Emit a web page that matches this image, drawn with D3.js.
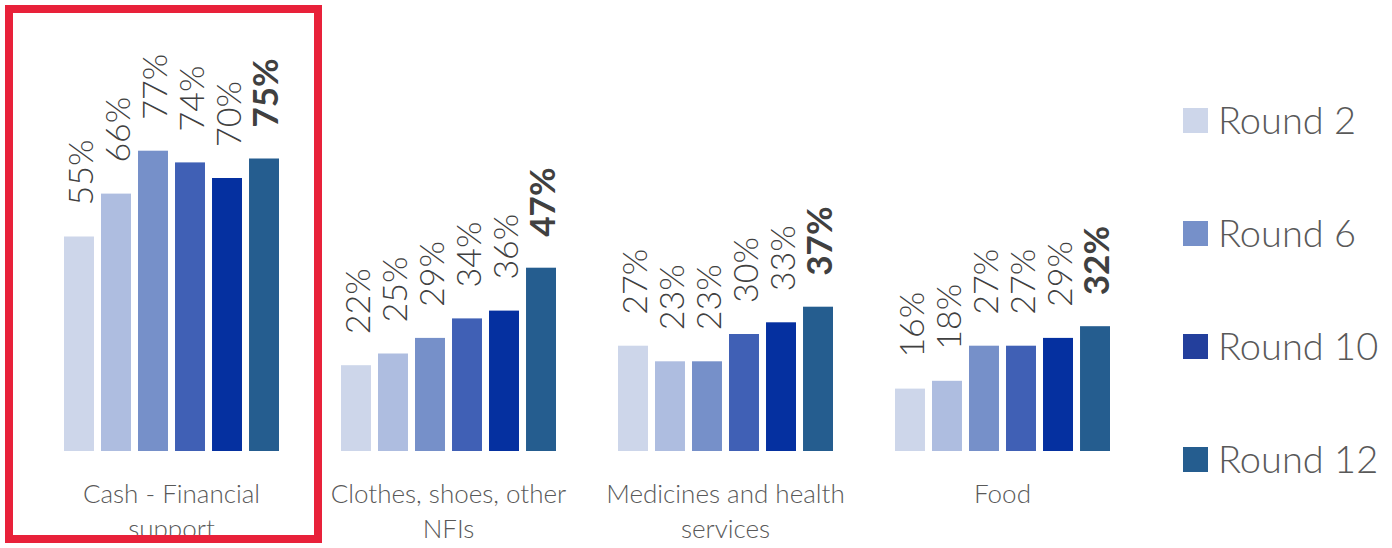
<!DOCTYPE html>
<html>
<head>
<meta charset="utf-8">
<script src="https://cdn.jsdelivr.net/npm/d3@7"></script>
<style>
  html, body { margin: 0; padding: 0; background: #fff; }
  svg { display: block; }
</style>
</head>
<body>
<svg id="chart" width="1392" height="548"></svg>
<script>
const categories = ["Cash - Financial support", "Clothes, shoes, other NFIs", "Medicines and health services", "Food"];
const categoryLines = [["Cash - Financial", "support"], ["Clothes, shoes, other", "NFIs"], ["Medicines and health", "services"], ["Food"]];
const seriesNames = ["Round 2", "Round 4", "Round 6", "Round 8", "Round 10", "Round 12"];
const seriesColors = ["#cdd6ea", "#aebde0", "#7690c9", "#4060b5", "#0530a0", "#255d8f"];
const round2 = [55, 22, 27, 16];
const round4 = [66, 25, 23, 18];
const round6 = [77, 29, 23, 27];
const round8 = [74, 34, 30, 27];
const round10 = [70, 36, 33, 29];
const round12 = [75, 47, 37, 32];
const legendNames = ["Round 2", "Round 6", "Round 10", "Round 12"];
const legendColors = ["#cdd6ea", "#7690c9", "#233f9c", "#255d8f"];

const seriesValues = [round2, round4, round6, round8, round10, round12];

const svg = d3.select("#chart");
const x0 = d3.scaleBand().domain(categories).range([33, 1141]).padding(0);
const x1 = d3.scaleBand().domain(seriesNames).range([31, 246]).paddingInner(0.19).paddingOuter(0);
const y = d3.scaleLinear().domain([0, 100]).range([451, 61]);

const font = "Lato, 'Open Sans', sans-serif";

const groups = svg.selectAll("g.cat").data(categories).enter().append("g")
  .attr("class", "cat")
  .attr("transform", d => `translate(${x0(d)},0)`);

groups.each(function(cat, ci) {
  const g = d3.select(this);
  const data = seriesNames.map((s, si) => ({ s, si, v: seriesValues[si][ci] }));
  g.selectAll("rect").data(data).enter().append("rect")
    .attr("x", d => x1(d.s))
    .attr("y", d => y(d.v))
    .attr("width", x1.bandwidth())
    .attr("height", d => y(0) - y(d.v))
    .attr("fill", d => seriesColors[d.si]);
  g.selectAll("text.val").data(data).enter().append("text")
    .attr("class", "val")
    .attr("transform", d => `translate(${x1(d.s) + x1.bandwidth() / 2 + 14},${y(d.v) - 31}) rotate(-90)`)
    .attr("text-anchor", "start")
    .attr("font-family", font)
    .attr("font-size", d => d.si === 5 ? 35 : 34)
    .attr("font-weight", d => d.si === 5 ? 700 : 300)
    .attr("fill", "#404040")
    .text(d => d.v + "%");
  const lines = categoryLines[ci];
  g.selectAll("text.cat").data(lines).enter().append("text")
    .attr("class", "cat")
    .attr("x", x0.bandwidth() / 2)
    .attr("y", (d, i) => 503 + i * 35)
    .attr("text-anchor", "middle")
    .attr("font-family", font)
    .attr("font-size", 26)
    .attr("font-weight", 300)
    .attr("fill", "#595959")
    .text(d => d);
});

const leg = svg.selectAll("g.leg").data(legendNames).enter().append("g")
  .attr("class", "leg")
  .attr("transform", (d, i) => `translate(1183,${108 + i * 113})`);
leg.append("rect").attr("width", 25).attr("height", 25)
  .attr("fill", (d, i) => legendColors[i]);
leg.append("text").attr("x", 35).attr("y", 12.5).attr("dy", "0.35em")
  .attr("font-family", font).attr("font-size", 38).attr("font-weight", 300)
  .attr("fill", "#595959").text(d => d);

svg.append("rect").attr("x", 9).attr("y", 9).attr("width", 309).attr("height", 530)
  .attr("fill", "none").attr("stroke", "#e8213a").attr("stroke-width", 8);
</script>
</body>
</html>
